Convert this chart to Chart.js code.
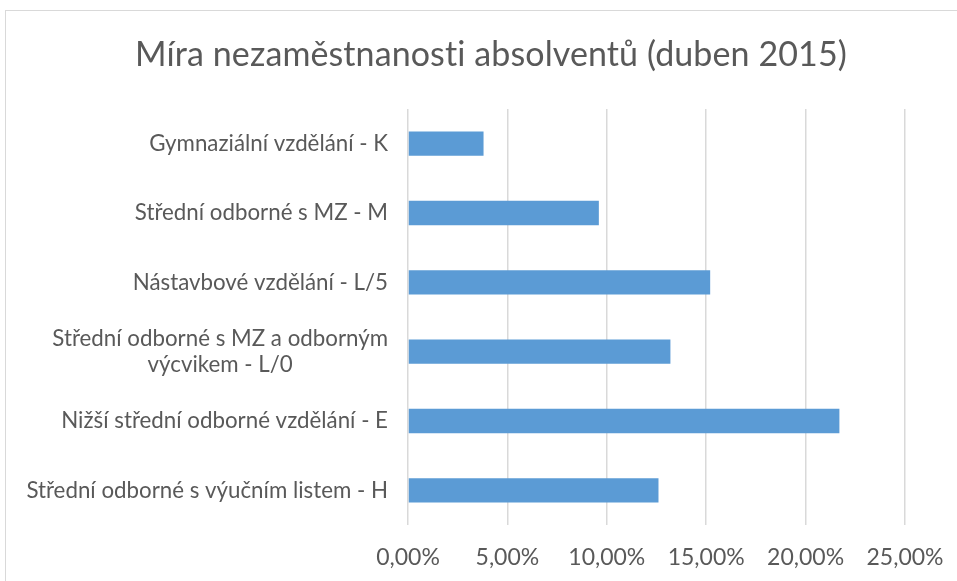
<!DOCTYPE html>
<html>
<head>
<meta charset="utf-8">
<script src="https://cdn.jsdelivr.net/npm/chart.js@4"></script>
<style>
  html, body { margin: 0; padding: 0; background: #fff; }
  #wrap { width: 957px; height: 581px; position: relative; }
</style>
</head>
<body>
<div id="wrap"><canvas id="myChart"></canvas></div>
<script>
// data
const categories = [
  'Gymnaziální vzdělání - K',
  'Střední odborné s MZ - M',
  'Nástavbové vzdělání - L/5',
  ['Střední odborné s MZ a odborným', 'výcvikem - L/0'],
  'Nižší střední odborné vzdělání - E',
  'Střední odborné s výučním listem - H'
];
const unemployment = [3.8, 9.6, 15.2, 13.2, 21.7, 12.6];
const xTicks = [0, 5, 10, 15, 20, 25];
const chartTitle = 'Míra nezaměstnanosti absolventů (duben 2015)';

const textColor = '#595959';
const fontFamily = 'Lato, "Open Sans", sans-serif';

// frame + title, like the Excel chart
const framePlugin = {
  id: 'frame',
  beforeDraw(chart) {
    const ctx = chart.ctx;
    ctx.save();
    ctx.strokeStyle = '#d9d9d9';
    ctx.lineWidth = 1;
    ctx.strokeRect(5.5, 10.5, 1000, 1000);
    ctx.font = '34px ' + fontFamily;
    ctx.fillStyle = textColor;
    ctx.textAlign = 'center';
    ctx.textBaseline = 'alphabetic';
    ctx.letterSpacing = '0.1px'; // avoids the "ti" ligature
    ctx.fillText(chartTitle, 491, 66);
    ctx.restore();
  }
};

// category labels: block right aligned, lines centred inside the block
const yLabelPlugin = {
  id: 'yLabels',
  afterDraw(chart) {
    const ctx = chart.ctx;
    const yScale = chart.scales.y;
    const right = chart.chartArea.left - 20;
    const lineH = 26;
    ctx.save();
    ctx.font = '22.3px ' + fontFamily;
    ctx.fillStyle = textColor;
    ctx.textAlign = 'center';
    ctx.textBaseline = 'middle';
    chart.data.labels.forEach((lab, i) => {
      const lines = Array.isArray(lab) ? lab : [lab];
      const w = Math.max(...lines.map(l => ctx.measureText(l).width));
      const cx = right - w / 2;
      const y0 = yScale.getPixelForTick(i) - (lines.length - 1) * lineH / 2;
      lines.forEach((l, j) => ctx.fillText(l, cx, y0 + j * lineH));
    });
    ctx.restore();
  }
};

const chartCanvas = document.getElementById('myChart');

const data = {
  labels: categories,
  datasets: [
    {
      label: 'Míra nezaměstnanosti',
      data: unemployment,
      backgroundColor: '#5b9bd5',
      borderWidth: 0,
      categoryPercentage: 1,
      barPercentage: 0.35
    }
  ]
};

const config = {
  type: 'bar',
  data: data,
  plugins: [framePlugin, yLabelPlugin],
  options: {
    indexAxis: 'y',
    responsive: true,
    maintainAspectRatio: false,
    animation: false,
    layout: { padding: { top: 109, right: 52, bottom: 0, left: 0 } },
    plugins: {
      legend: { display: false },
      tooltip: { enabled: false },
      title: { display: false }
    },
    scales: {
      x: {
        min: 0,
        max: 25,
        afterBuildTicks(scale) {
          scale.ticks = xTicks.map(v => ({ value: v }));
        },
        afterFit(scale) {
          scale.height = 56;
          scale.paddingLeft = 0;
          scale.paddingRight = 0;
        },
        grid: { color: '#d9d9d9', lineWidth: 1.5, drawTicks: false },
        border: { display: false },
        ticks: {
          color: textColor,
          padding: 19,
          font: { family: fontFamily, size: 23 },
          callback: v => v.toFixed(2).replace('.', ',') + '%'
        }
      },
      y: {
        afterFit(scale) { scale.width = 408; },
        grid: { display: false },
        border: { display: false },
        ticks: { color: 'rgba(0,0,0,0)', font: { family: fontFamily, size: 20 } }
      }
    }
  }
};

const myChart = new Chart(chartCanvas, config);
</script>
</body>
</html>
